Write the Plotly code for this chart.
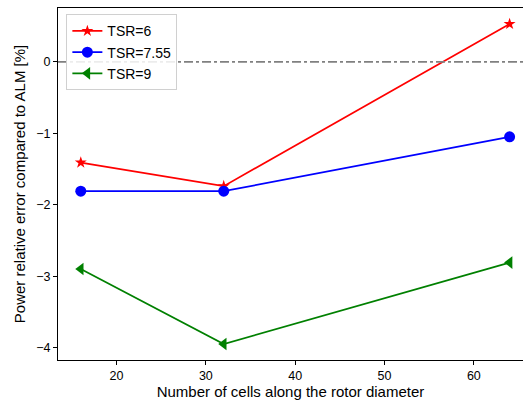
import plotly.graph_objects as go

cells = [16, 32, 64]
tsr6 = [-1.41, -1.74, 0.53]
tsr755 = [-1.81, -1.81, -1.05]
tsr9 = [-2.90, -3.95, -2.81]
names = ["TSR=6", "TSR=7.55", "TSR=9"]
colors = ["red", "blue", "green"]
symbols = ["star", "circle", "triangle-left"]
sizes = [9, 11, 11]

fig = go.Figure()
for y, n, c, s, sz in zip([tsr6, tsr755, tsr9], names, colors, symbols, sizes):
    fig.add_trace(go.Scatter(x=cells, y=y, name=n, mode="lines+markers",
                             line=dict(color=c, width=1.7),
                             marker=dict(symbol=s, size=sz, color=c, line=dict(width=0))))

fig.add_hline(y=0, line=dict(color="gray", width=1.7, dash="dashdot"))

font = dict(family="Liberation Sans, Arial, sans-serif", size=12.5, color="black")
fig.update_layout(
    width=523, height=401,
    margin=dict(l=58, r=0, t=8, b=41),
    plot_bgcolor="white", paper_bgcolor="white",
    font=font,
    showlegend=True,
    legend=dict(x=0.018, y=0.982, xanchor="left", yanchor="top",
                bgcolor="rgba(255,255,255,0.85)", bordercolor="#d0d0d0", borderwidth=1,
                font=dict(family="Liberation Sans, Arial, sans-serif", size=14),
                tracegroupgap=0, itemwidth=30),
    xaxis=dict(range=[13.45, 65.5], tickvals=[20, 30, 40, 50, 60],
               showgrid=False, zeroline=False, showline=True, linecolor="black", linewidth=1,
               mirror=True, ticks="outside", ticklen=4, tickcolor="black",
               title=dict(text="Number of cells along the rotor diameter", standoff=4)),
    yaxis=dict(range=[-4.174, 0.754], tickvals=[0, -1, -2, -3, -4],
               showgrid=False, zeroline=False, showline=True, linecolor="black", linewidth=1,
               ticks="outside", ticklen=4, tickcolor="black",
               title=dict(text="Power relative error compared to ALM [%]", standoff=6)),
)
fig.write_html("out.html")
